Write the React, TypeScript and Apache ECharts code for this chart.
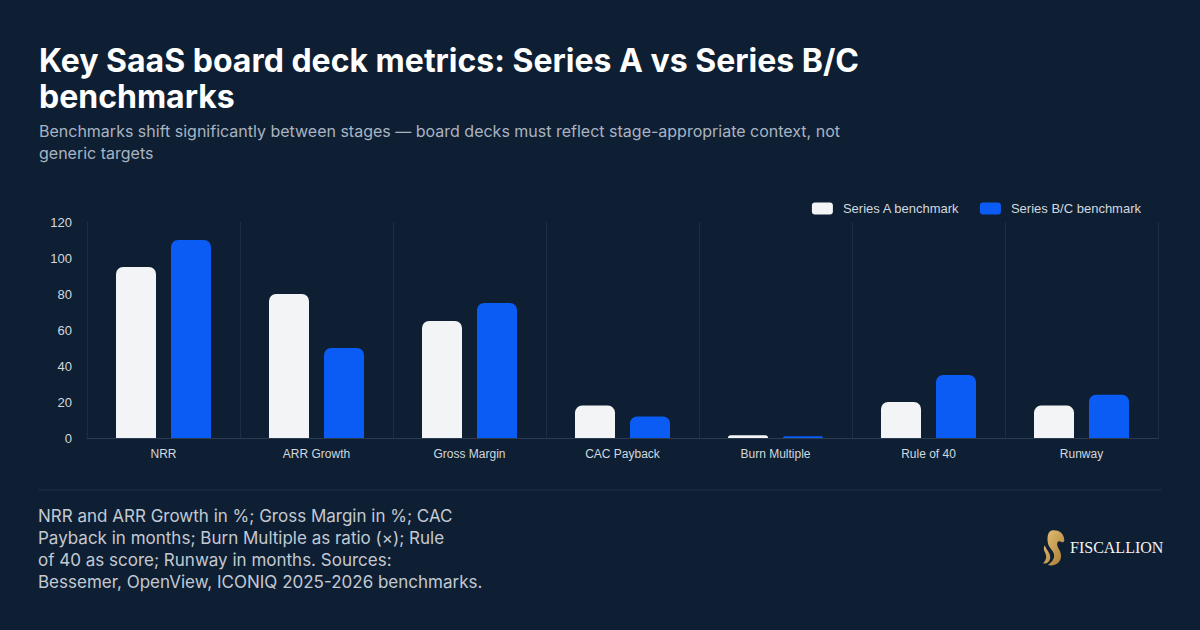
import React, { useEffect, useRef } from "react";
import * as echarts from "echarts";

// Board deck metrics and the two stage benchmarks
const categories = ["NRR", "ARR Growth", "Gross Margin", "CAC Payback", "Burn Multiple", "Rule of 40", "Runway"];
const seriesA = [95, 80, 65, 18, 1.5, 20, 18];
const seriesBC = [110, 50, 75, 12, 1.0, 35, 24];
const seriesNames = ["Series A benchmark", "Series B/C benchmark"];

const titleText = "Key SaaS board deck metrics: Series A vs Series B/C\nbenchmarks";
const subtitleText =
  "Benchmarks shift significantly between stages — board decks must reflect stage-appropriate context, not\ngeneric targets";
const footnoteText =
  "NRR and ARR Growth in %; Gross Margin in %; CAC\nPayback in months; Burn Multiple as ratio (×); Rule\nof 40 as score; Runway in months. Sources:\nBessemer, OpenView, ICONIQ 2025-2026 benchmarks.";

const BG = "#0e1f33";
const FONT = "Inter, 'Noto Sans', sans-serif";
const UI_FONT = "'Liberation Sans', Arial, sans-serif";

// Stylised horse-head mark for the brand logo
const LOGO_D =
  "M14 2 C22 0 30 4 31 11 C32 14 29 16 26 14 C24 13 22 14 22 17 C22 21 27 24 27 30 C27 38 18 42 10 40 C15 37 19 33 18 28 C17 24 11 21 10 15 C9 9 10 4 14 2 Z M6 18 C9 24 14 27 13 33 C12 37 8 39 4 38 C8 35 9 31 7 27 C5 24 4 21 6 18 Z";
echarts.graphic.registerShape("logo", echarts.graphic.extendPath(LOGO_D, {}));

export default function App() {
  const ref = useRef<HTMLDivElement>(null);

  useEffect(() => {
    document.body.style.margin = "0";
    document.body.style.background = BG;
    if (!ref.current) return;
    const chart = echarts.init(ref.current, undefined, { renderer: "svg" });

    chart.setOption({
      animation: false,
      backgroundColor: BG,
      textStyle: { fontFamily: FONT },
      title: {
        left: 39,
        top: 42,
        padding: 0,
        text: titleText,
        textStyle: { color: "#ffffff", fontSize: 32, fontWeight: 700, lineHeight: 36, fontFamily: FONT },
        subtext: subtitleText,
        itemGap: 6,
        subtextStyle: { color: "#a9b3c1", fontSize: 16, lineHeight: 22, fontFamily: FONT },
      },
      legend: {
        right: 54,
        top: 197,
        itemWidth: 21,
        itemHeight: 12,
        itemGap: 20,
        icon: "roundRect",
        textStyle: { color: "#d3d8df", fontSize: 13, padding: [0, 0, 0, 5], fontFamily: UI_FONT },
        data: seriesNames,
      },
      grid: { left: 87, right: 42, top: 222, bottom: 192, containLabel: false },
      xAxis: {
        type: "category",
        data: categories,
        axisLine: { show: true, lineStyle: { color: "#2b3b50", width: 1 } },
        axisTick: { show: false },
        splitLine: { show: true, lineStyle: { color: "#1e2e42", width: 1 } },
        axisLabel: { color: "#d3d8df", fontSize: 12, margin: 10, fontFamily: UI_FONT },
      },
      yAxis: {
        type: "value",
        min: 0,
        max: 120,
        interval: 20,
        axisLine: { show: true, lineStyle: { color: "#1e2e42" } },
        axisTick: { show: false },
        splitLine: { show: false },
        axisLabel: { color: "#d3d8df", fontSize: 13, margin: 15, fontFamily: UI_FONT },
      },
      series: [
        {
          name: seriesNames[0],
          type: "bar",
          data: seriesA,
          barWidth: 40,
          barGap: "37.5%",
          itemStyle: { color: "#f3f4f6", borderRadius: [7, 7, 0, 0] },
        },
        {
          name: seriesNames[1],
          type: "bar",
          data: seriesBC,
          barWidth: 40,
          itemStyle: { color: "#0a5cf5", borderRadius: [7, 7, 0, 0] },
        },
      ],
      graphic: [
        {
          type: "line",
          shape: { x1: 38, y1: 490, x2: 1162, y2: 490 },
          style: { stroke: "#1f3046", lineWidth: 1 },
        },
        {
          type: "text",
          left: 38,
          top: 505,
          style: { text: footnoteText, fill: "#c3c9d2", fontSize: 17, lineHeight: 22, fontFamily: FONT },
        },
        {
          type: "logo",
          x: 1040,
          y: 529,
          scaleX: 0.78,
          scaleY: 0.9,
          style: {
            fill: new echarts.graphic.LinearGradient(0, 0, 1, 1, [
              { offset: 0, color: "#e6c47a" },
              { offset: 1, color: "#a9792f" },
            ]),
          },
        },
        {
          type: "text",
          left: 1070,
          top: 539,
          style: {
            text: "FISCALLION",
            fill: "#f2f2f2",
            fontSize: 16,
            fontFamily: "'Liberation Serif', 'DejaVu Serif', serif",
          },
        },
      ],
    });

    return () => chart.dispose();
  }, []);

  return <div ref={ref} style={{ width: 1200, height: 630 }} />;
}
